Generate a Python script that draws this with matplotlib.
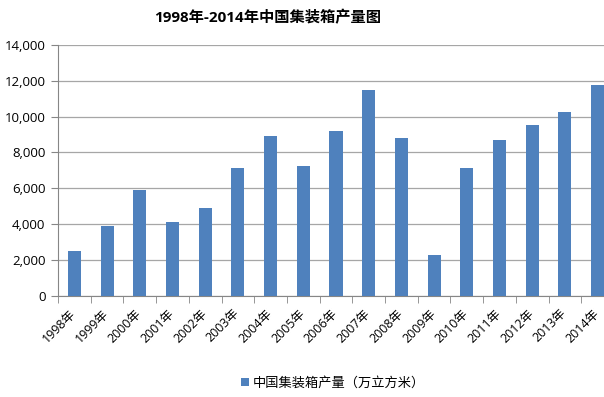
import numpy as np
import matplotlib
matplotlib.use("Agg")
import matplotlib.pyplot as plt
from matplotlib.ticker import FuncFormatter

plt.rcParams['font.family'] = ['Open Sans', 'Noto Sans CJK SC', 'DejaVu Sans']

years = [str(y) + "年" for y in range(1998, 2015)]
output = [2520, 3920, 5880, 4100, 4870, 7120, 8900, 7270, 9180,
          11480, 8800, 2280, 7120, 8690, 9510, 10240, 11770]
series_name = "中国集装箱产量（万立方米）"
title = "1998年-2014年中国集装箱产量图"

fig = plt.figure(figsize=(6.04, 3.97), dpi=100)
ax = fig.add_axes([58 / 604, 1 - 295.7 / 397, 556 / 604, 250.7 / 397])

x = np.arange(len(years))
bars = ax.bar(x, output, width=0.4, color="#4f81bd", label=series_name, zorder=3)

ax.set_xlim(-0.5, len(years) - 0.5)
ax.set_ylim(0, 14000)
ax.set_yticks(np.arange(0, 14001, 2000))
ax.yaxis.set_major_formatter(FuncFormatter(lambda v, p: f"{int(v):,}"))
ax.grid(axis="y", color="#a6a6a6", linewidth=0.9, zorder=0)

# labels sit a touch left of the bar centre, like the original
ax.set_xticks(x - 0.15)
ax.set_xticklabels(years, rotation=45, ha="right", rotation_mode="anchor",
                   fontsize=9, family=['Open Sans', 'Noto Sans CJK SC'])
ax.set_xticks(np.arange(-0.5, len(years), 1), minor=True)
ax.tick_params(axis="x", which="major", length=0, pad=8)
ax.tick_params(axis="x", which="minor", length=5, color="#868686", direction="out")
ax.tick_params(axis="y", length=5, color="#868686", labelsize=9.5, pad=4)

for s in ["top", "right"]:
    ax.spines[s].set_visible(False)
ax.spines["left"].set_color("#868686")
ax.spines["bottom"].set_color("#868686")

fig.text(268 / 604, 1 - 18 / 397, title, ha="center", va="center",
         fontsize=11, fontweight="bold",
         family=['Open Sans', 'Noto Sans CJK SC'])

fig.legend(handles=[bars], labels=[series_name], loc="center",
           bbox_to_anchor=(333 / 604, 1 - 383 / 397), frameon=False,
           handlelength=0.6, handleheight=0.6, handletextpad=0.3,
           prop={"family": "Noto Sans CJK SC", "size": 9.5})

fig.savefig("out.png", dpi=100)
